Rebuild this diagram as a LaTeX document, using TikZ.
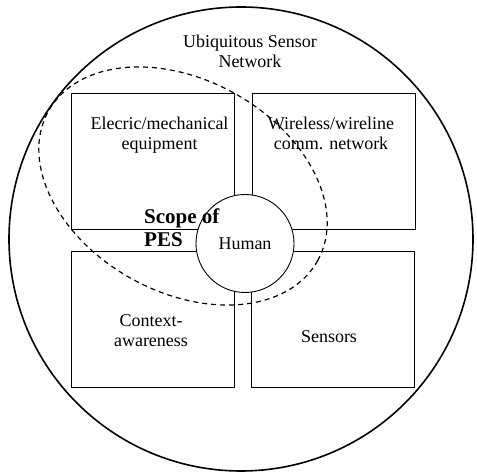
\documentclass[tikz,border=0pt]{standalone}
\usepackage{fontspec}
\setmainfont{Liberation Serif}
\begin{document}
\begin{tikzpicture}[x=1pt,y=1pt,
  box/.style={draw, line width=0.9pt, minimum width=163pt, minimum height=136pt, inner sep=0pt},
  txt/.style={font=\fontsize{18}{20}\selectfont, align=center, inner sep=0pt},
  boldtxt/.style={font=\fontsize{21}{23}\selectfont\bfseries, align=left, inner sep=0pt},
  scopeline/.style={draw, dashed, line width=1.2pt, dash pattern=on 5pt off 4pt}]
\useasboundingbox (0,0) rectangle (477,473);
\node[draw, circle, line width=1.6pt, minimum size=464pt, inner sep=0pt] (usn) at (241,234) {};
\node[box] (equip) at (152.5,312) {};
\node[box] (comm) at (333.5,312) {};
\node[box] (ctx) at (152.5,154) {};
\node[box] (sens) at (333,154) {};
\node[draw, circle, fill=white, line width=0.9pt, minimum size=98pt, inner sep=0pt,
      font=\fontsize{18}{20}\selectfont] (human) at (245,229.5) {Human};
\draw[scopeline, rotate around={-29:(183,287)}] (183,287) ellipse [x radius=154, y radius=106];
\node[txt, anchor=base] (usnt) at (250,405) {Ubiquitous Sensor\\Network};
\node[txt, anchor=base] (equipt) at (159.5,323) {Elecric/mechanical\\equipment};
\node[txt, anchor=base] (commt) at (331,323) {Wireless/wireline\\comm. network};
\node[boldtxt, anchor=base west] (pes) at (144,226) {Scope of\\PES};
\node[txt, anchor=base] (ctxt) at (151,126) {Context-\\awareness};
\node[txt, anchor=base] (senst) at (329,130) {Sensors};
\end{tikzpicture}
\end{document}
